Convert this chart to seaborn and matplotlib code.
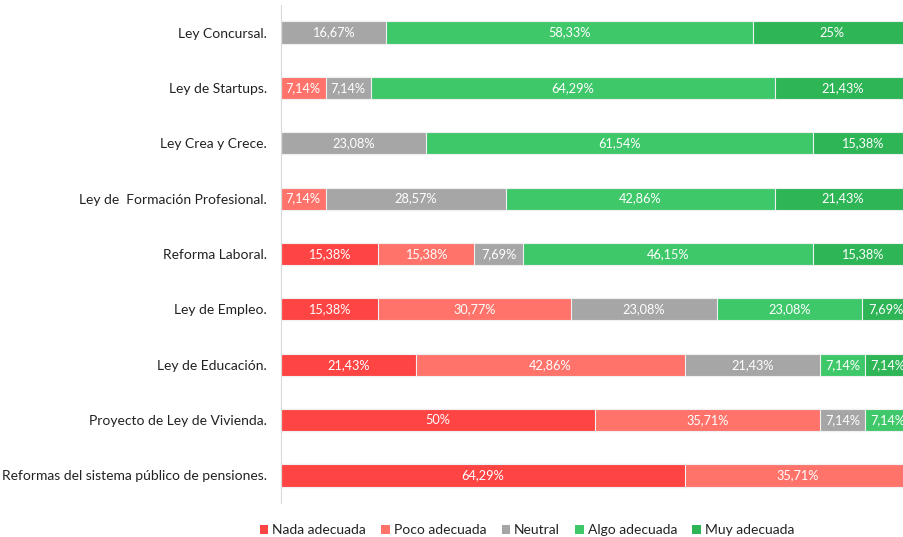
import pandas as pd
import matplotlib.pyplot as plt
import seaborn as sns
from matplotlib.patches import Patch

# datos (porcentajes)
leyes = [
    "Ley Concursal.",
    "Ley de Startups.",
    "Ley Crea y Crece.",
    "Ley de  Formación Profesional.",
    "Reforma Laboral.",
    "Ley de Empleo.",
    "Ley de Educación.",
    "Proyecto de Ley de Vivienda.",
    "Reformas del sistema público de pensiones.",
]
categorias = ["Nada adecuada", "Poco adecuada", "Neutral", "Algo adecuada", "Muy adecuada"]
nada = [0, 0, 0, 0, 15.38, 15.38, 21.43, 50, 64.29]
poco = [0, 7.14, 0, 7.14, 15.38, 30.77, 42.86, 35.71, 35.71]
neutral = [16.67, 7.14, 23.08, 28.57, 7.69, 23.08, 21.43, 7.14, 0]
algo = [58.33, 64.29, 61.54, 42.86, 46.15, 23.08, 7.14, 7.14, 0]
muy = [25, 21.43, 15.38, 21.43, 15.38, 7.69, 7.14, 0, 0]
colores = ["#ff4444", "#ff736a", "#a6a6a6", "#3ec86a", "#2db556"]

df = pd.DataFrame({"ley": leyes, "Nada adecuada": nada, "Poco adecuada": poco,
                   "Neutral": neutral, "Algo adecuada": algo, "Muy adecuada": muy})
acum = df[categorias].cumsum(axis=1)

plt.rcParams['font.family'] = ['Lato', 'DejaVu Sans']
fig = plt.figure(figsize=(9.04, 5.37), dpi=100)
ax = fig.add_axes([0.3105, 0.063, 0.6895, 0.928])

# barras apiladas: se dibuja primero el acumulado mayor
for cat, col in reversed(list(zip(categorias, colores))):
    sns.barplot(x=acum[cat], y=df["ley"], color=col, orient="h", width=0.4,
                saturation=1, edgecolor="#f0f0f0", linewidth=0.8, ax=ax)

# etiquetas de cada segmento
for i in range(len(leyes)):
    inicio = 0
    for cat in categorias:
        v = df.loc[i, cat]
        if v > 0:
            txt = f"{v:g}".replace(".", ",") + "%"
            ax.text(inicio + v / 2, i, txt, ha="center", va="center",
                    color="white", fontsize=9.2, clip_on=True)
        inicio += v

# el gráfico original queda recortado un poco antes del 100 %
ax.set_xlim(0, 99)
ax.set_ylim(8.5, -0.5)
ax.set_xlabel("")
ax.set_ylabel("")
ax.set_xticks([])
ax.tick_params(axis="y", length=0, pad=10, labelsize=10, labelcolor="#222222")
for s in ["top", "right", "bottom"]:
    ax.spines[s].set_visible(False)
ax.spines["left"].set_color("#d9d9d9")

handles = [Patch(facecolor=c, label=l) for l, c in zip(categorias, colores)]
fig.legend(handles=handles, loc="lower center", bbox_to_anchor=(0.583, -0.022),
           ncol=5, frameon=False, fontsize=10, handlelength=0.6, handleheight=0.6,
           handletextpad=0.3, columnspacing=1.1, labelcolor="#222222")

fig.savefig("out.png", dpi=100)
